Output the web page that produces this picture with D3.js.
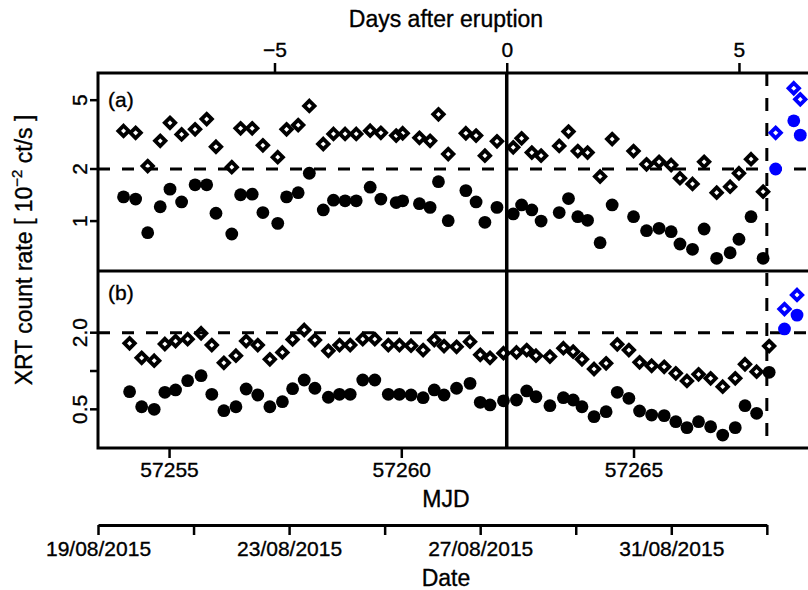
<!DOCTYPE html>
<html><head><meta charset="utf-8">
<script src="https://cdn.jsdelivr.net/npm/d3@7"></script>
<style>
body{margin:0;background:#fff}
text{font-family:"Liberation Sans",Arial,Helvetica,sans-serif;fill:#000;stroke:#000;stroke-width:0.35px}
</style>
</head><body>
<svg id="c" width="808" height="590"></svg>
<script>
// ---------------- data ----------------
// panel (a): count rate [1e-2 ct/s], open diamonds and filled circles
const mjdA = [57254.02,57254.28,57254.54,57254.81,57255.02,57255.27,57255.56,57255.81,57256.01,57256.35,57256.54,57256.79,57257.02,57257.34,57257.53,57257.78,57258.02,57258.32,57258.54,57258.79,57259.03,57259.33,57259.56,57259.89,57260.03,57260.39,57260.62,57260.80,57261.01,57261.39,57261.61,57261.80,57262.06,57262.41,57262.59,57262.81,57263.01,57263.40,57263.60,57263.80,57264.01,57264.28,57264.54,57265.00,57265.28,57265.55,57265.81,57266.00,57266.27,57266.52,57266.79,57267.08,57267.27,57267.53,57267.79];
const openA = [3.32,3.24,2.08,2.91,3.70,3.17,3.39,3.89,2.69,2.05,3.44,3.44,2.74,2.34,3.39,3.59,4.63,2.79,3.19,3.19,3.19,3.33,3.24,3.12,3.22,3.03,2.91,4.14,2.44,3.22,3.12,2.39,2.89,2.67,3.01,2.49,2.39,2.72,3.29,2.54,2.49,1.81,2.98,2.54,2.13,2.20,2.11,1.77,1.64,2.20,1.46,1.58,1.89,2.28,1.48];
const filledA = [1.38,1.34,0.857,1.21,1.53,1.29,1.62,1.62,1.11,0.842,1.42,1.43,1.12,0.97,1.38,1.46,1.89,1.16,1.32,1.31,1.31,1.57,1.34,1.28,1.31,1.26,1.20,1.69,1.005,1.50,1.29,0.984,1.20,1.10,1.24,1.16,1.00,1.12,1.35,1.06,1.01,0.750,1.24,1.06,0.88,0.908,0.868,0.737,0.687,0.90,0.609,0.656,0.785,1.06,0.609];
const mjdA2 = [57268.06,57268.45,57268.59];
const openA2 = [3.24,5.86,5.06];
const filledA2 = [2.00,3.80,3.14];

// panel (b)
const mjdB = [57254.15,57254.41,57254.68,57254.91,57255.14,57255.40,57255.69,57255.92,57256.18,57256.44,57256.66,57256.91,57257.17,57257.44,57257.66,57257.91,57258.14,57258.43,57258.67,57258.90,57259.17,57259.43,57259.72,57259.96,57260.21,57260.47,57260.71,57260.92,57261.19,57261.48,57261.70,57261.91,57262.20,57262.48,57262.70,57262.90,57263.20,57263.49,57263.70,57263.89,57264.15,57264.41,57264.65,57264.90,57265.13,57265.39,57265.66,57265.91,57266.15,57266.40,57266.66,57266.92,57267.19,57267.40,57267.65,57267.92];
const openB = [1.65,1.27,1.205,1.63,1.72,1.78,1.98,1.60,1.16,1.32,1.72,1.60,1.236,1.40,1.77,2.10,1.75,1.44,1.60,1.60,1.78,1.78,1.60,1.60,1.58,1.46,1.75,1.57,1.55,1.70,1.34,1.27,1.38,1.40,1.46,1.32,1.30,1.51,1.42,1.236,1.037,1.15,1.62,1.46,1.17,1.10,1.08,0.96,0.835,0.942,0.877,0.753,0.877,1.13,0.988,1.57];
const filledB = [0.688,0.524,0.50,0.68,0.71,0.84,0.919,0.656,0.488,0.524,0.722,0.648,0.524,0.574,0.726,0.85,0.732,0.622,0.656,0.656,0.85,0.85,0.656,0.656,0.648,0.617,0.71,0.648,0.732,0.80,0.568,0.541,0.583,0.592,0.697,0.628,0.534,0.617,0.592,0.524,0.438,0.479,0.68,0.61,0.485,0.451,0.446,0.40,0.359,0.40,0.365,0.314,0.359,0.534,0.465,0.977];
const mjdB2 = [57268.25,57268.52];
const openB2 = [3.07,3.96];
const filledB2 = [2.14,2.75];

// axes / reference values
const mjdTicks = [57255,57260,57265];
const dayTicks = [-5,0,5];
const yTicksA = [1,2,5], yLabelsA = ["1","2","5"];
const yTicksB = [0.5,1,2], yLabelsB = ["0.5","","2.0"];
const eruptionMJD = 57262.27;
const splitMJD = 57267.87;
const refLevel = 2;
const dateStart = "2015-08-19", dateEnd = "2015-09-02";

// ---------------- layout ----------------
const L=98, R=830, T=73, M=271, B=448;
const svg = d3.select("#c");
const mjdDomain=[57253.47, 57269.23];
const x = d3.scaleLinear().domain(mjdDomain).range([L,R]);
const xDays = d3.scaleLinear().domain(mjdDomain.map(d=>d-eruptionMJD)).range([L,R]);
const yA = d3.scaleLog().domain([0.5145,7.18]).range([M,T]);
const yB = d3.scaleLog().domain([0.2484,6.107]).range([B,M]);
const d0 = new Date(dateStart+"T00:00:00Z"), d1 = new Date(dateEnd+"T00:00:00Z");
const xDate = d3.scaleUtc().domain([d0,d1]).range([L, x(splitMJD)]);

const black="#000", blue="#0000ff";
const FS_TICK=21, FS_TITLE=23;

// reference lines
const g = svg.append("g");
[[yA,refLevel],[yB,refLevel]].forEach(([ys,v])=>{
  g.append("line").attr("x1",L).attr("x2",R).attr("y1",ys(v)).attr("y2",ys(v))
   .attr("stroke",black).attr("stroke-width",3).attr("stroke-dasharray","12,12");
});
g.append("line").attr("x1",x(splitMJD)).attr("x2",x(splitMJD)).attr("y1",T).attr("y2",B)
  .attr("stroke",black).attr("stroke-width",3).attr("stroke-dasharray","13,12");
g.append("line").attr("x1",x(eruptionMJD)).attr("x2",x(eruptionMJD)).attr("y1",T).attr("y2",B)
  .attr("stroke",black).attr("stroke-width",3.5);

// markers
function circles(xs, ys, yScale, color){
  svg.append("g").selectAll("circle").data(xs.map((d,i)=>[d,ys[i]])).join("circle")
    .attr("cx",d=>x(d[0])).attr("cy",d=>yScale(d[1])).attr("r",6.4).attr("fill",color);
}
function diamonds(xs, ys, yScale, color){
  const r=5.2;
  svg.append("g").selectAll("path").data(xs.map((d,i)=>[d,ys[i]])).join("path")
    .attr("d",`M0,${-r}L${r},0L0,${r}L${-r},0Z`)
    .attr("transform",d=>`translate(${x(d[0])},${yScale(d[1])})`)
    .attr("fill","none").attr("stroke",color).attr("stroke-width",3.8);
}
circles(mjdA, filledA, yA, black);
diamonds(mjdA, openA, yA, black);
circles(mjdA2, filledA2, yA, blue);
diamonds(mjdA2, openA2, yA, blue);
circles(mjdB, filledB, yB, black);
diamonds(mjdB, openB, yB, black);
circles(mjdB2, filledB2, yB, blue);
diamonds(mjdB2, openB2, yB, blue);

// frame
svg.append("rect").attr("x",L).attr("y",T).attr("width",R-L).attr("height",B-T)
  .attr("fill","none").attr("stroke",black).attr("stroke-width",3);
svg.append("line").attr("x1",L).attr("x2",R).attr("y1",M).attr("y2",M)
  .attr("stroke",black).attr("stroke-width",3);

function styleAxis(sel){
  sel.select(".domain").remove();
  sel.selectAll(".tick line").attr("stroke",black).attr("stroke-width",2.5);
  sel.selectAll(".tick text").attr("font-size",FS_TICK).attr("font-family",null).attr("fill",black);
}
// bottom MJD axis
const axB = svg.append("g").attr("transform",`translate(0,${B})`)
  .call(d3.axisBottom(x).tickValues(mjdTicks).tickFormat(d3.format("d")).tickSize(10).tickPadding(4));
styleAxis(axB);
// top days axis
const axT = svg.append("g").attr("transform",`translate(0,${T})`)
  .call(d3.axisTop(xDays).tickValues(dayTicks).tickFormat(d=>d<0?"\u2212"+Math.abs(d):String(d)).tickSize(10).tickPadding(6));
styleAxis(axT);

// left axes (rotated labels)
function leftAxis(ys, vals, labels){
  const ga = svg.append("g");
  vals.forEach((v,i)=>{
    ga.append("line").attr("x1",L-8).attr("x2",L).attr("y1",ys(v)).attr("y2",ys(v))
      .attr("stroke",black).attr("stroke-width",2.5);
    if(labels[i]) ga.append("text").attr("transform",`translate(${L-11},${ys(v)}) rotate(-90)`)
      .attr("text-anchor","middle").attr("font-size",FS_TICK).text(labels[i]);
  });
}
leftAxis(yA, yTicksA, yLabelsA);
leftAxis(yB, yTicksB, yLabelsB);

// date axis
const dateTicks = d3.range(0,15,2).map(k=>d3.utcDay.offset(d0,k));
const fmt = d3.utcFormat("%d/%m/%Y");
const axD = svg.append("g").attr("transform","translate(0,525)")
  .call(d3.axisBottom(xDate).tickValues(dateTicks)
    .tickFormat((d,i)=> i%2===0 ? fmt(d) : "").tickSize(10).tickSizeOuter(0).tickPadding(6));
axD.select(".domain").attr("stroke",black).attr("stroke-width",3);
axD.selectAll(".tick line").attr("stroke",black).attr("stroke-width",2.5);
axD.selectAll(".tick text").attr("font-size",FS_TICK).attr("font-family",null);

// titles
const cx = 446;
svg.append("text").attr("x",cx).attr("y",27).attr("text-anchor","middle").attr("font-size",FS_TITLE).text("Days after eruption");
svg.append("text").attr("x",cx).attr("y",507).attr("text-anchor","middle").attr("font-size",FS_TITLE).text("MJD");
svg.append("text").attr("x",cx).attr("y",586).attr("text-anchor","middle").attr("font-size",FS_TITLE).text("Date");
const yl = svg.append("text").attr("transform","translate(32,250) rotate(-90)").attr("text-anchor","middle").attr("font-size",FS_TITLE);
yl.append("tspan").text("XRT count rate [ 10");
yl.append("tspan").attr("dy",-10).attr("font-size",15).text("\u22122");
yl.append("tspan").attr("dy",10).text(" ct/s ]");

// panel labels
svg.append("text").attr("x",108).attr("y",107).attr("font-size",FS_TICK).text("(a)");
svg.append("text").attr("x",108).attr("y",300).attr("font-size",FS_TICK).text("(b)");
</script>
</body></html>
